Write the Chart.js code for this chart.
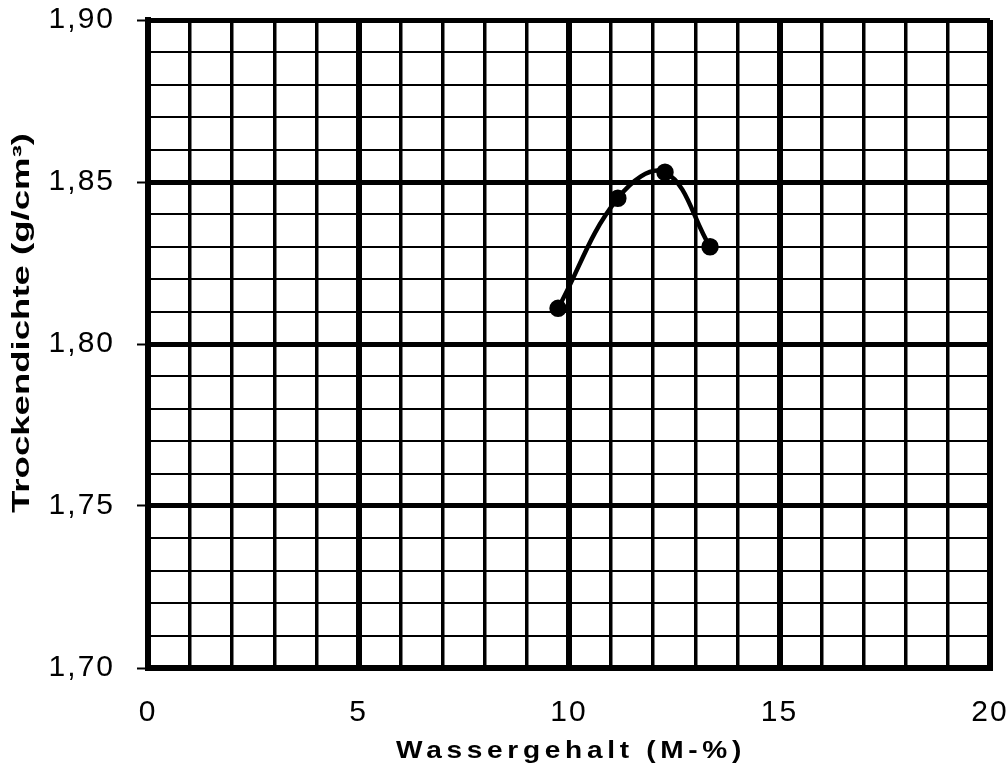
<!DOCTYPE html>
<html>
<head>
<meta charset="utf-8">
<script src="https://cdn.jsdelivr.net/npm/chart.js@4"></script>
<style>
  html, body { margin: 0; padding: 0; background: #fff; }
  #wrap { width: 1008px; height: 777px; }
</style>
</head>
<body>
<div id="wrap"><canvas id="c" width="1008" height="777"></canvas></div>
<script>
// Data
const waterContent = [9.74, 11.16, 12.28, 13.35];      // Wassergehalt (M-%)
const dryDensity   = [1.811, 1.845, 1.853, 1.830];     // Trockendichte (g/cm³)
const xTitle = 'Wassergehalt (M-%)';
const yTitle = 'Trockendichte (g/cm³)';
const xMin = 0, xMax = 20, xStep = 1, xMajor = 5;
const yMin = 1.70, yMax = 1.90, yStep = 0.01, yMajor = 0.05;

const points = waterContent.map((x, i) => ({ x: x, y: dryDensity[i] }));

const isMajorX = v => Math.abs(v / xMajor - Math.round(v / xMajor)) < 1e-6;
const isMajorY = v => Math.abs(v / yMajor - Math.round(v / yMajor)) < 1e-6;

const FONT = '"Liberation Sans", Arial, sans-serif';

const spacingPlugin = {
  id: 'spacing',
  beforeLayout(chart) { chart.ctx.letterSpacing = '2px'; },
  beforeDraw(chart) { chart.ctx.letterSpacing = '2px'; },
  afterDraw(chart) {
    const ctx = chart.ctx;
    const a = chart.chartArea;
    ctx.save();
    ctx.fillStyle = '#000';
    ctx.textAlign = 'center';
    ctx.textBaseline = 'alphabetic';
    // x title
    ctx.font = 'bold 24px ' + FONT;
    ctx.letterSpacing = '4px';
    let w = ctx.measureText(xTitle).width;
    let sx = 350 / w;
    ctx.save();
    ctx.translate((a.left + a.right) / 2 + 2, 758);
    ctx.scale(sx, 1);
    ctx.fillText(xTitle, 0, 0);
    ctx.restore();
    // y title
    ctx.font = 'bold 23px ' + FONT;
    ctx.letterSpacing = '0px';
    w = ctx.measureText(yTitle).width;
    sx = 380 / w;
    ctx.translate(29, 323);
    ctx.rotate(-Math.PI / 2);
    ctx.scale(sx, 1);
    ctx.fillText(yTitle, 0, 0);
    ctx.restore();
    ctx.letterSpacing = '0px';
  }
};

new Chart(document.getElementById('c'), {
  type: 'line',
  data: {
    datasets: [{
      data: points,
      borderColor: '#000',
      backgroundColor: '#000',
      borderWidth: 4.5,
      pointRadius: 6.5,
      pointHoverRadius: 6.5,
      pointBackgroundColor: '#000',
      pointBorderColor: '#000',
      tension: 0.4,
      fill: false
    }]
  },
  options: {
    responsive: false,
    animation: false,
    events: [],
    layout: { padding: 0 },
    plugins: { legend: { display: false }, tooltip: { enabled: false }, title: { display: false } },
    scales: {
      x: {
        type: 'linear',
        min: xMin, max: xMax,
        afterFit(s) { s.height = 109; s.paddingLeft = 0; s.paddingRight = 18; },
        border: { display: true, color: '#000', width: 6 },
        grid: {
          color: '#000',
          lineWidth: c => isMajorX(c.tick.value) ? 6 : 3.5,
          drawTicks: false
        },
        ticks: {
          stepSize: xStep,
          autoSkip: false,
          maxRotation: 0,
          padding: 27,
          color: '#000',
          font: { family: FONT, size: 30 },
          callback: v => isMajorX(v) ? String(Math.round(v)) : ''
        }
      },
      y: {
        type: 'linear',
        min: yMin, max: yMax,
        afterFit(s) { s.width = 148; s.paddingTop = 20; s.paddingBottom = 0; },
        border: { display: true, color: '#000', width: 6 },
        grid: {
          color: '#000',
          lineWidth: c => isMajorY(c.tick.value) ? 5 : 2,
          tickLength: 11,
          tickWidth: 2,
          tickColor: c => isMajorY(c.tick.value) ? '#000' : 'rgba(0,0,0,0)'
        },
        ticks: {
          stepSize: yStep,
          autoSkip: false,
          padding: 22,
          color: '#000',
          font: { family: FONT, size: 30 },
          callback: v => isMajorY(v) ? v.toFixed(2).replace('.', ',') : ''
        }
      }
    }
  },
  plugins: [spacingPlugin]
});
</script>
</body>
</html>
